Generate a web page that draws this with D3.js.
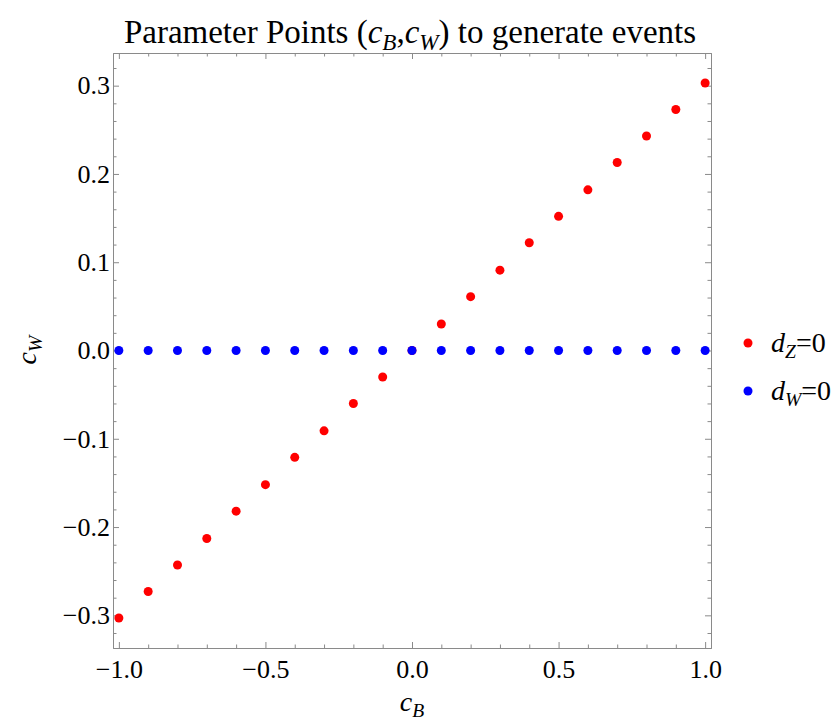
<!DOCTYPE html>
<html>
<head>
<meta charset="utf-8">
<script src="https://cdn.jsdelivr.net/npm/d3@7"></script>
<style>
  body { margin: 0; background: #fff; }
  text { font-family: "Liberation Serif", "DejaVu Serif", serif; }
</style>
</head>
<body>
<div id="chart"></div>
<script>
// ---------------------------------------------------------------
// data
var cB = [-1.0, -0.9, -0.8, -0.7, -0.6, -0.5, -0.4, -0.3, -0.2, -0.1, 0.0,
          0.1, 0.2, 0.3, 0.4, 0.5, 0.6, 0.7, 0.8, 0.9, 1.0];
var cW_dZ = [-0.303, -0.273, -0.243, -0.213, -0.182, -0.152, -0.121, -0.091, -0.060, -0.030, 0.0,
             0.030, 0.061, 0.091, 0.122, 0.152, 0.182, 0.213, 0.243, 0.273, 0.303];
var cW_dW = [0, 0, 0, 0, 0, 0, 0, 0, 0, 0, 0, 0, 0, 0, 0, 0, 0, 0, 0, 0, 0];
var xTicks = [-1.0, -0.5, 0.0, 0.5, 1.0];
var yTicks = [-0.3, -0.2, -0.1, 0.0, 0.1, 0.2, 0.3];

var largeur = 835, hauteur = 721;
var gauche = 113, droite = 711, haut = 53, bas = 648;
var gris = "#8a8a8a";

var svg = d3.select("#chart").append("svg")
  .attr("width", largeur)
  .attr("height", hauteur);

var x = d3.scaleLinear().domain([-1.02, 1.02]).range([gauche, droite]);
var y = d3.scaleLinear().domain([-0.337, 0.337]).range([bas, haut]);
var fmt = d3.format(".1f");

var xMinor = d3.range(-10, 11).map(function(i){ return i / 10; })
  .filter(function(v){ return Math.abs(v * 2 - Math.round(v * 2)) > 1e-6; });
var yMinor = d3.range(-16, 17).map(function(i){ return i / 50; })
  .filter(function(v){ return Math.abs(v * 10 - Math.round(v * 10)) > 1e-6; });

// ---------------------------------------------------------------
// axes (ticks inside the frame, on all four sides)
function style(g, labels) {
  g.selectAll("path").attr("stroke", gris);
  g.selectAll("line").attr("stroke", gris);
  g.attr("font-size", 26).attr("font-family", "'Liberation Serif', serif");
  g.selectAll("text").attr("fill", "#000");
  if (!labels) g.selectAll("text").remove();
}

svg.append("g").attr("transform", "translate(0," + bas + ")")
  .call(d3.axisBottom(x).tickValues(xTicks).tickSizeInner(-6).tickSizeOuter(0).tickPadding(12).tickFormat(fmt))
  .call(style, true);
svg.append("g").attr("transform", "translate(0," + bas + ")")
  .call(d3.axisBottom(x).tickValues(xMinor).tickSizeInner(-3.5).tickSizeOuter(0))
  .call(style, false);
svg.append("g").attr("transform", "translate(0," + haut + ")")
  .call(d3.axisTop(x).tickValues(xTicks).tickSizeInner(-6).tickSizeOuter(0))
  .call(style, false);
svg.append("g").attr("transform", "translate(0," + haut + ")")
  .call(d3.axisTop(x).tickValues(xMinor).tickSizeInner(-3.5).tickSizeOuter(0))
  .call(style, false);

svg.append("g").attr("transform", "translate(" + gauche + ",0)")
  .call(d3.axisLeft(y).tickValues(yTicks).tickSizeInner(-6).tickSizeOuter(0).tickPadding(3).tickFormat(fmt))
  .call(style, true);
svg.append("g").attr("transform", "translate(" + gauche + ",0)")
  .call(d3.axisLeft(y).tickValues(yMinor).tickSizeInner(-3.5).tickSizeOuter(0))
  .call(style, false);
svg.append("g").attr("transform", "translate(" + droite + ",0)")
  .call(d3.axisRight(y).tickValues(yTicks).tickSizeInner(-6).tickSizeOuter(0))
  .call(style, false);
svg.append("g").attr("transform", "translate(" + droite + ",0)")
  .call(d3.axisRight(y).tickValues(yMinor).tickSizeInner(-3.5).tickSizeOuter(0))
  .call(style, false);

// ---------------------------------------------------------------
// points
svg.append("g").selectAll("circle")
  .data(cB.map(function(v, i){ return [v, cW_dZ[i]]; }))
  .enter().append("circle")
  .attr("cx", function(d){ return x(d[0]); })
  .attr("cy", function(d){ return y(d[1]); })
  .attr("r", 4.5)
  .attr("fill", "#ff0000");

svg.append("g").selectAll("circle")
  .data(cB.map(function(v, i){ return [v, cW_dW[i]]; }))
  .enter().append("circle")
  .attr("cx", function(d){ return x(d[0]); })
  .attr("cy", function(d){ return y(d[1]); })
  .attr("r", 4.5)
  .attr("fill", "#0000ff");

// ---------------------------------------------------------------
// texts with italic letter + subscript
function ecrit(t, parts, taille) {
  parts.forEach(function(p){
    var ts = t.append("tspan").text(p.t);
    if (p.i) ts.attr("font-style", "italic");
    if (p.sub) ts.attr("font-size", (taille * 0.7) + "px").attr("dy", taille * 0.22);
    if (p.back) ts.attr("dy", -taille * 0.22);
  });
}

var titre = svg.append("text")
  .attr("x", 410).attr("y", 43)
  .attr("text-anchor", "middle")
  .attr("font-size", "33px");
ecrit(titre, [
  {t: "Parameter Points ("},
  {t: "c", i: true}, {t: "B", i: true, sub: true},
  {t: ",", back: true},
  {t: "c", i: true}, {t: "W", i: true, sub: true},
  {t: ") to generate events", back: true}
], 33);

var labY = svg.append("text")
  .attr("transform", "translate(36,350) rotate(-90)")
  .attr("text-anchor", "middle")
  .attr("font-size", "28px");
ecrit(labY, [{t: "c", i: true}, {t: "W", i: true, sub: true}], 28);

var labX = svg.append("text")
  .attr("x", 412).attr("y", 711)
  .attr("text-anchor", "middle")
  .attr("font-size", "28px");
ecrit(labX, [{t: "c", i: true}, {t: "B", i: true, sub: true}], 28);

// ---------------------------------------------------------------
// legend
var legende = [
  {couleur: "#ff0000", nom: "Z"},
  {couleur: "#0000ff", nom: "W"}
];
legende.forEach(function(l, i){
  var ly = 343 + i * 48;
  svg.append("circle").attr("cx", 748).attr("cy", ly).attr("r", 4.5).attr("fill", l.couleur);
  var t = svg.append("text").attr("x", 771).attr("y", ly + 9).attr("font-size", "28px");
  ecrit(t, [{t: "d", i: true}, {t: l.nom, i: true, sub: true}, {t: "=0", back: true}], 28);
});
</script>
</body>
</html>
